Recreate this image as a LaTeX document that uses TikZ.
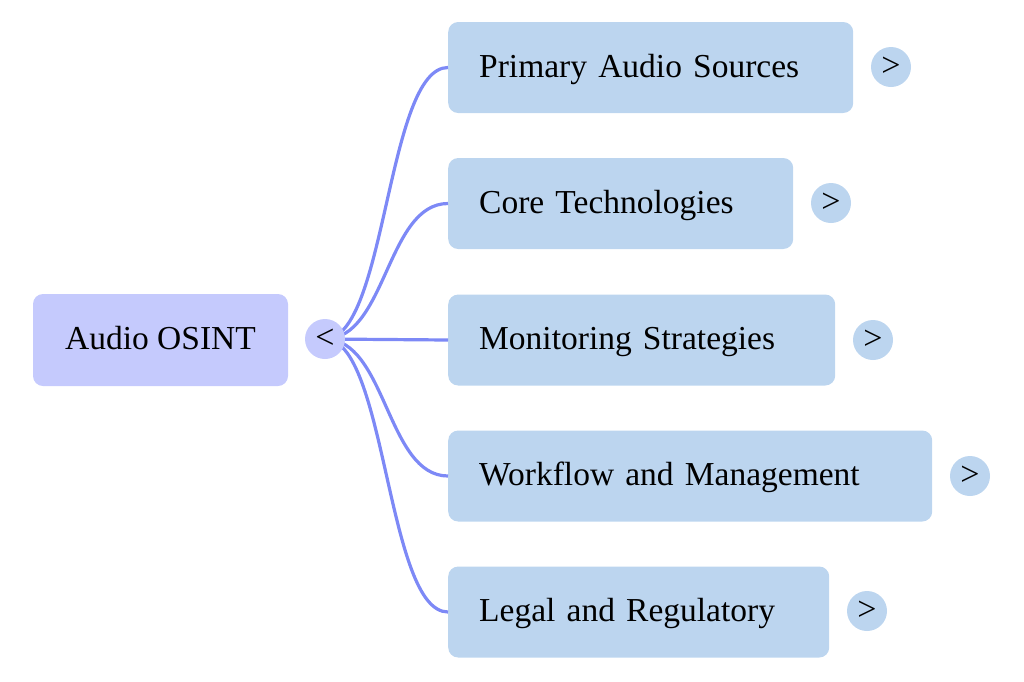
\documentclass[tikz,border=0pt]{standalone}
\usepackage{fontspec}
\setmainfont{Liberation Serif}
\definecolor{rootfill}{RGB}{197,202,253}
\definecolor{childfill}{RGB}{188,213,239}
\definecolor{linkcol}{RGB}{125,137,246}
\begin{document}
\begin{tikzpicture}[x=1pt,y=-1pt,
  boxtext/.style={font=\fontsize{33.5}{40}\selectfont, text height=26.8pt, text depth=7.8pt},
  rootbox/.style={boxtext, fill=rootfill, rounded corners=10pt, minimum width=255pt, minimum height=92pt, inner sep=0pt},
  childbox/.style={boxtext, fill=childfill, rounded corners=10pt, minimum height=91pt, inner xsep=31pt, inner ysep=0pt, align=left, anchor=west},
  togglebase/.style={circle, minimum size=40pt, inner sep=0pt, font=\fontsize{34}{34}\selectfont},
  roottoggle/.style={togglebase, fill=rootfill},
  childtoggle/.style={togglebase, fill=childfill},
  link/.style={draw=linkcol, line width=3.2pt}
]
\useasboundingbox (0,0) rectangle (1024,681);
\coordinate (hub) at (325,339);
\coordinate (midx) at (386.5,0);
\node[rootbox] (root) at (160.5,340) {Audio OSINT};
\node[childbox, text width=343pt] (c1) at (448,67.5) {Primary Audio Sources};
\node[childbox, text width=283pt] (c2) at (448,203.5) {Core Technologies};
\node[childbox, text width=325pt] (c3) at (448,340) {Monitoring Strategies};
\node[childbox, text width=422pt] (c4) at (448,476) {Workflow and Management};
\node[childbox, text width=319pt] (c5) at (448,612) {Legal and Regulatory};
\foreach \c in {c1,c2,c3,c4,c5}{
  \draw[link] (hub) .. controls (hub -| midx) and (\c.west -| midx) .. (\c.west);
}
\node[roottoggle] (t0) at (hub) {<};
\node[childtoggle] (t1) at (891,67) {>};
\node[childtoggle] (t2) at (831,203) {>};
\node[childtoggle] (t3) at (873,340) {>};
\node[childtoggle] (t4) at (970,476) {>};
\node[childtoggle] (t5) at (867,611) {>};
\end{tikzpicture}
\end{document}
